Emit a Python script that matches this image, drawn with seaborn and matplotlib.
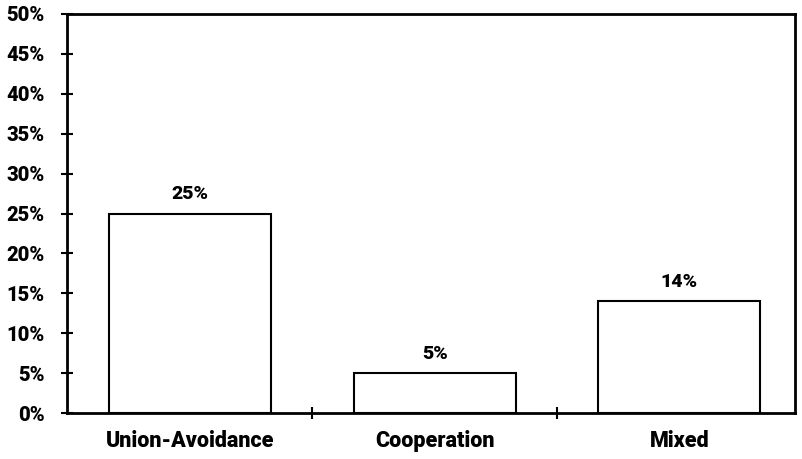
import matplotlib
matplotlib.use("Agg")
import matplotlib.pyplot as plt
import seaborn as sns
import pandas as pd
from matplotlib.ticker import FixedLocator

categories = ["Union-Avoidance", "Cooperation", "Mixed"]
values = [25, 5, 14]
value_labels = ["25%", "5%", "14%"]
y_ticks = [0, 5, 10, 15, 20, 25, 30, 35, 40, 45, 50]
y_tick_labels = [f"{v}%" for v in y_ticks]

sns.set_theme(style="white")
plt.rcParams['font.family'] = ['Roboto', 'Liberation Sans', 'DejaVu Sans']
plt.rcParams['text.color'] = 'black'
plt.rcParams['xtick.color'] = 'black'
plt.rcParams['ytick.color'] = 'black'

df = pd.DataFrame({"cat": categories, "val": values})

fig = plt.figure(figsize=(8.03, 4.59), dpi=100)
ax = fig.add_axes([0.0834, 0.1002, 0.9066, 0.8693])

sns.barplot(data=df, x="cat", y="val", ax=ax, color="white",
            edgecolor="black", linewidth=1.5, width=0.662, saturation=1)

ax.set_ylim(0, 50)
ax.set_xlim(-0.503, 2.472)
ax.set_yticks(y_ticks)
ax.set_yticklabels(y_tick_labels, fontsize=14.5, fontweight=900)
ax.set_xticks(range(len(categories)))
ax.set_xticklabels(categories, fontsize=15.5, fontweight=900)
ax.tick_params(axis="x", which="major", length=0, pad=12)
ax.xaxis.set_minor_locator(FixedLocator([0.5, 1.5]))
ax.tick_params(axis="x", which="minor", direction="inout", length=8, width=1.5, bottom=True)
ax.tick_params(axis="y", direction="inout", length=8, width=1.5, left=True, pad=12)
ax.set_xlabel("")
ax.set_ylabel("")

for s in ax.spines.values():
    s.set_visible(True)
    s.set_color("black")
    s.set_linewidth(2)

for i, (v, lab) in enumerate(zip(values, value_labels)):
    ax.text(i, v + 1.3, lab, ha="center", va="bottom", fontsize=14, fontweight=900, color="black")

fig.savefig("out.png", dpi=100, facecolor="white")
